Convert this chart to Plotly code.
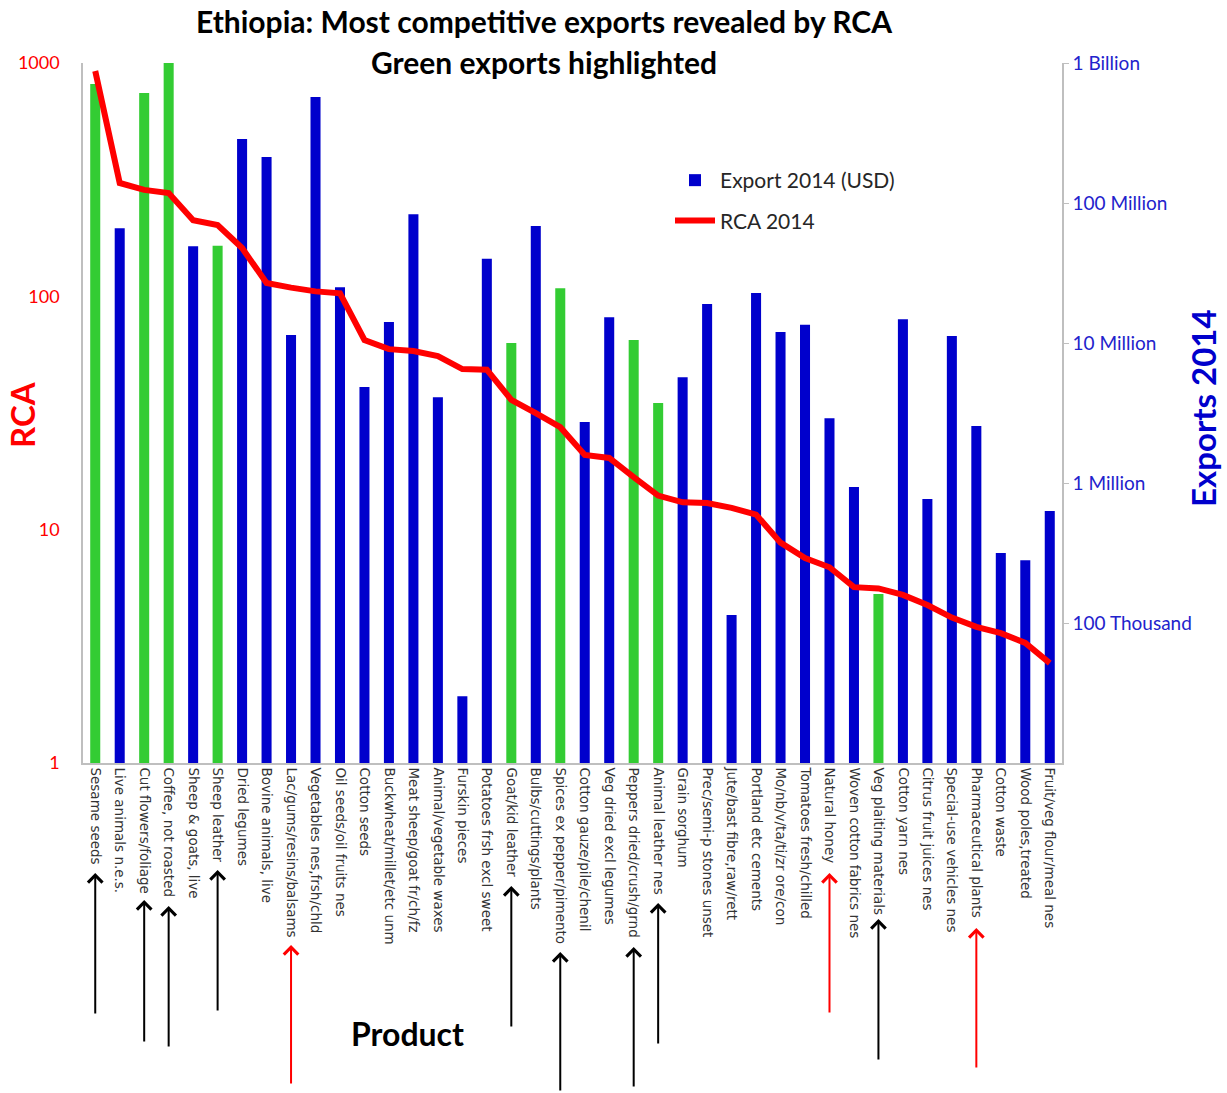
import plotly.graph_objects as go

# ---------------- data ----------------
products = [
    "Sesame seeds", "Live animals n.e.s.", "Cut flowers/foliage", "Coffee, not roasted",
    "Sheep & goats, live", "Sheep leather", "Dried legumes", "Bovine animals, live",
    "Lac/gums/resins/balsams", "Vegetables nes,frsh/chld", "Oil seeds/oil fruits nes",
    "Cotton seeds", "Buckwheat/millet/etc unm", "Meat sheep/goat fr/ch/fz",
    "Animal/vegetable waxes", "Furskin pieces", "Potatoes frsh excl sweet",
    "Goat/kid leather", "Bulbs/cuttings/plants", "Spices ex pepper/pimento",
    "Cotton gauze/pile/chenil", "Veg dried excl legumes", "Peppers dried/crush/grnd",
    "Animal leather nes", "Grain sorghum", "Prec/semi-p stones unset",
    "Jute/bast fibre,raw/rett", "Portland etc cements", "Mo/nb/v/ta/ti/zr ore/con",
    "Tomatoes fresh/chilled", "Natural honey", "Woven cotton fabrics nes",
    "Veg plaiting materials", "Cotton yarn nes", "Citrus fruit juices nes",
    "Special-use vehicles nes", "Pharmaceutical plants", "Cotton waste",
    "Wood poles,treated", "Fruit/veg flour/meal nes",
]

exports_2014 = [
    708e6, 66e6, 611e6, 1000e6, 49e6, 49.5e6, 286e6, 213e6,
    11.4e6, 571e6, 25e6, 4.85e6, 14.1e6, 83e6, 4.1e6, 30e3,
    40e6, 10e6, 68.5e6, 24.6e6, 2.73e6, 15.3e6, 10.5e6, 3.73e6,
    5.7e6, 19e6, 114e3, 22.8e6, 12e6, 13.5e6, 2.9e6, 936e3,
    161e3, 14.8e6, 769e3, 11.2e6, 2.55e6, 316e3, 281e3, 631e3,
]

rca_2014 = [
    924, 306, 286, 277, 212, 202, 161, 114,
    109, 105, 103, 65, 59.4, 58.3, 55.5, 48.8,
    48.5, 36, 31.6, 27.5, 20.9, 20.3, 16.8, 14.0,
    13.1, 13.0, 12.4, 11.6, 8.8, 7.56, 6.9, 5.67,
    5.6, 5.25, 4.75, 4.2, 3.83, 3.6, 3.27, 2.68,
]

green_export = [
    True, False, True, True, False, True, False, False,
    False, False, False, False, False, False, False, False,
    False, True, False, True, False, False, True, True,
    False, False, False, False, False, False, False, False,
    True, False, False, False, False, False, False, False,
]

export_tick_vals = [1e5, 1e6, 1e7, 1e8, 1e9]
export_tick_text = ["100 Thousand", "1 Million", "10 Million", "100 Million", "1 Billion"]
rca_tick_vals = [1, 10, 100, 1000]
rca_tick_text = ["1", "10", "100", "1000"]

# arrows: (product, colour)
arrow_products = [
    ("Sesame seeds", "black"), ("Cut flowers/foliage", "black"),
    ("Coffee, not roasted", "black"), ("Sheep leather", "black"),
    ("Lac/gums/resins/balsams", "red"), ("Goat/kid leather", "black"),
    ("Spices ex pepper/pimento", "black"), ("Peppers dried/crush/grnd", "black"),
    ("Animal leather nes", "black"), ("Natural honey", "red"),
    ("Veg plaiting materials", "black"), ("Pharmaceutical plants", "red"),
]
# arrow geometry in page pixels (head y, tail y) -- layout only
arrow_geom = [
    (873, 1015), (900, 1043), (906, 1048), (870, 1012),
    (945, 1085), (886, 1028), (952, 1092), (947, 1088),
    (903, 1045), (873, 1014), (919, 1061), (928, 1069),
]

# ---------------- figure ----------------
W, H = 1227, 1093
L, R, T, B = 83, 165, 63, 330
PW, PH = W - L - R, H - T - B
BLUE = "#0000CC"
GREEN = "#33CC33"
RED = "#FF0000"
CAL = "Lato, 'Open Sans', sans-serif"

blue_vals = [v if not g else None for v, g in zip(exports_2014, green_export)]
green_vals = [v if g else None for v, g in zip(exports_2014, green_export)]

fig = go.Figure()
fig.add_trace(go.Bar(x=products, y=blue_vals, name="Export 2014 (USD)",
                     marker=dict(color=BLUE, line=dict(width=0)), yaxis="y",
                     legendgroup="a"))
fig.add_trace(go.Bar(x=products, y=green_vals, name="Green exports",
                     marker=dict(color=GREEN, line=dict(width=0)), yaxis="y",
                     showlegend=False))
fig.add_trace(go.Scatter(x=products, y=rca_2014, name="RCA 2014", mode="lines",
                         line=dict(color=RED, width=6), yaxis="y2",
                         legendgroup="b"))

def px_x(p):
    return (p - L) / PW

def px_y(p):
    return (T + PH - p) / PH

annotations = [
    dict(text="<b>Green exports highlighted</b>", x=px_x(544), y=px_y(62), xref="paper", yref="paper",
         showarrow=False, font=dict(family=CAL, size=30, color="black"),
         xanchor="center", yanchor="middle"),
    dict(text="<b>RCA</b>", x=px_x(22), y=px_y(415), xref="paper", yref="paper",
         xanchor="center", yanchor="middle",
         textangle=-90, showarrow=False, font=dict(family=CAL, size=33, color=RED)),
    dict(text="<b>Exports 2014</b>", x=px_x(1203), y=px_y(408), xref="paper", yref="paper",
         xanchor="center", yanchor="middle",
         textangle=-90, showarrow=False, font=dict(family=CAL, size=33, color=BLUE)),
    dict(text="<b>Product</b>", x=px_x(407), y=px_y(1033), xref="paper", yref="paper",
         xanchor="center", yanchor="middle",
         showarrow=False, font=dict(family=CAL, size=32, color="black")),
]
for (prod, col), (head, tail) in zip(arrow_products, arrow_geom):
    annotations.append(dict(
        x=prod, y=px_y(head), xref="x", yref="paper", text="",
        showarrow=True, ax=0, ay=tail - head, axref="pixel", ayref="pixel",
        arrowhead=4, arrowsize=1.4, arrowwidth=2, arrowcolor=col,
    ))

fig.update_layout(
    width=W, height=H,
    margin=dict(l=L, r=R, t=T, b=B, pad=0),
    paper_bgcolor="white", plot_bgcolor="white",
    title=dict(text="<b>Ethiopia: Most competitive exports revealed by RCA</b>",
               x=544 / W, xanchor="center", xref="container",
               y=1 - 22 / H, yanchor="middle", yref="container",
               font=dict(family=CAL, size=30, color="black")),
    barmode="overlay", bargap=0.59,
    showlegend=True,
    legend=dict(x=px_x(670), y=px_y(160), xanchor="left", yanchor="top",
                bgcolor="rgba(0,0,0,0)", font=dict(family=CAL, size=21, color="#262626"),
                tracegroupgap=10, itemwidth=40),
    xaxis=dict(type="category", range=[-0.5, len(products) - 0.5],
               tickangle=90, tickfont=dict(family="DejaVu Sans", size=13.5, color="#333333"),
               showline=True, linecolor="#BFBFBF", linewidth=1.5, ticks="",
               showgrid=False, zeroline=False),
    yaxis=dict(type="log", range=[4, 9], side="right",
               tickvals=export_tick_vals, ticktext=export_tick_text,
               tickfont=dict(family=CAL, size=19, color="#2222CC"),
               showline=True, linecolor="#BFBFBF", linewidth=1.5,
               ticks="outside", ticklen=5, tickcolor="#BFBFBF",
               ticklabelstandoff=0, showgrid=False, zeroline=False),
    yaxis2=dict(type="log", range=[0, 3], side="left", overlaying="y",
                tickvals=rca_tick_vals, ticktext=rca_tick_text,
                tickfont=dict(family=CAL, size=18, color=RED),
                showline=True, linecolor="#BFBFBF", linewidth=1.5,
                ticks="", ticklabelstandoff=18, showgrid=False, zeroline=False),
    annotations=annotations,
)

fig.write_html("out.html", config={"displayModeBar": False},
               post_script="document.body.style.margin='0px';")
